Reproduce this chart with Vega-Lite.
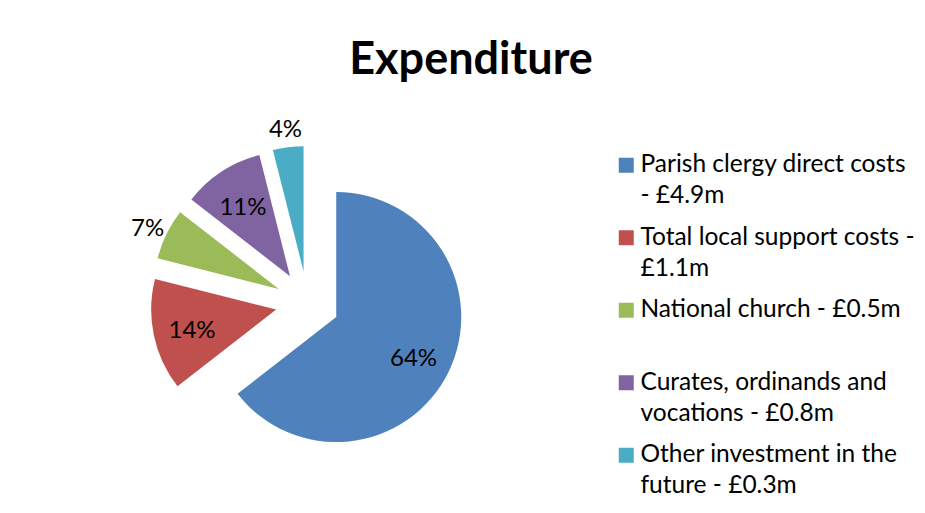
{
  "$schema": "https://vega.github.io/schema/vega-lite/v6.json",
  "width": 400,
  "height": 400,
  "autosize": {"type": "none"},
  "padding": {"left": 107.5, "top": 103, "right": 417.5, "bottom": 10},
  "background": "white",
  "config": {"view": {"stroke": null}},
  "title": {
    "text": "Expenditure",
    "font": "Lato",
    "fontSize": 45,
    "fontWeight": "bold",
    "color": "#000000",
    "anchor": "middle",
    "frame": "group",
    "dx": 163.5,
    "baseline": "alphabetic",
    "offset": -16
  },
  "data": {
    "values": [
      {"category": "Parish clergy direct costs\n- £4.9m", "value": 4.9, "order": 1},
      {"category": "Total local support costs -\n£1.1m", "value": 1.1, "order": 2},
      {"category": "National church - £0.5m", "value": 0.5, "order": 3},
      {"category": "Curates, ordinands and\nvocations - £0.8m", "value": 0.8, "order": 4},
      {"category": "Other investment in the\nfuture - £0.3m", "value": 0.3, "order": 5}
    ]
  },
  "transform": [
    {"joinaggregate": [{"op": "sum", "field": "value", "as": "total"}]},
    {"stack": "value", "groupby": [], "sort": [{"field": "order", "order": "ascending"}], "as": ["v0", "v1"]},
    {"calculate": "datum.value / datum.total", "as": "pct"}
  ],
  "layer": [
    {
      "mark": {
        "type": "arc",
        "radius": 125,
        "xOffset": {"expr": "32 * sin(PI * (datum.v0 + datum.v1) / datum.total)"},
        "yOffset": {"expr": "-32 * cos(PI * (datum.v0 + datum.v1) / datum.total)"}
      },
      "encoding": {
        "theta": {"field": "value", "type": "quantitative", "stack": true},
        "order": {"field": "order", "type": "quantitative"},
        "color": {
          "field": "category",
          "type": "nominal",
          "sort": {"field": "order", "op": "min"},
          "scale": {"range": ["#4F81BD", "#C0504D", "#9BBB59", "#8064A2", "#4BACC6"]},
          "legend": {
            "title": null,
            "orient": "none",
            "legendX": 506.5,
            "legendY": 50,
            "padding": 0,
            "symbolType": "square",
            "symbolSize": 225,
            "symbolStrokeWidth": 0,
            "labelFont": "Lato",
            "labelFontSize": 24.5,
            "labelColor": "#000000",
            "labelLimit": 0,
            "labelOffset": 2,
            "rowPadding": 16.5,
            "labelExpr": "indexof(datum.label, '\\n') < 0 ? [datum.label, ''] : split(datum.label, '\\n')",
            "encoding": {"labels": {"lineHeight": {"value": 31}}}
          }
        }
      }
    },
    {
      "mark": {
        "type": "text",
        "font": "Lato",
        "fontSize": 24,
        "color": "#000000",
        "dy": 4,
        "radius": {"expr": "datum.value / datum.total < 0.08 ? 178 : 118"}
      },
      "encoding": {
        "theta": {"field": "value", "type": "quantitative", "stack": true},
        "order": {"field": "order", "type": "quantitative"},
        "text": {"field": "pct", "type": "quantitative", "format": ".0%"}
      }
    }
  ]
}
